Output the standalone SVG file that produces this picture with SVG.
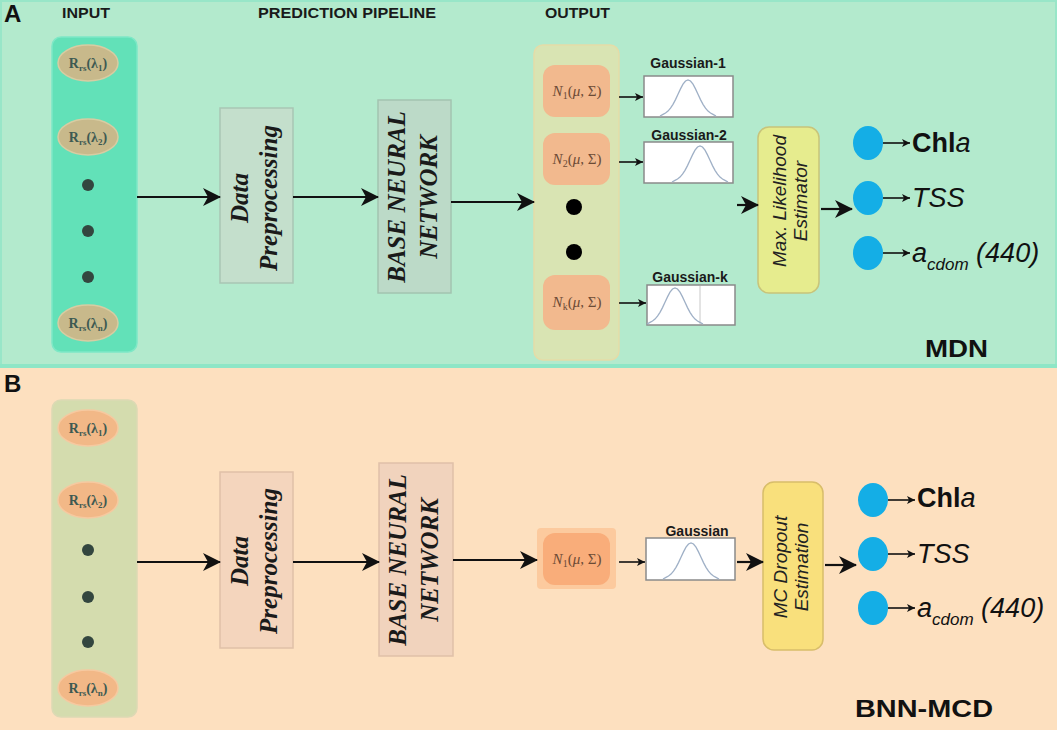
<svg xmlns="http://www.w3.org/2000/svg" xmlns:xlink="http://www.w3.org/1999/xlink" width="1059" height="730" viewBox="0 0 1059 730">
<style>
.hdr{font-family:"Liberation Sans",Arial,sans-serif;font-weight:bold;font-size:14px;fill:#1a1a1a}
.big{font-family:"Liberation Sans",Arial,sans-serif;font-weight:bold;font-size:24px;fill:#111}
.rs{font-family:"Liberation Serif","Times New Roman",serif;font-weight:bold;font-size:14px;fill:#3d5a52}
.nl{font-family:"Liberation Serif","Times New Roman",serif;font-size:15px;fill:#6b4a35}
.rot{font-family:"Liberation Serif","Times New Roman",serif;font-weight:bold;font-style:italic;fill:#1a1a1a;text-anchor:middle}
.rots{font-family:"Liberation Sans",Arial,sans-serif;font-style:italic;font-size:19px;fill:#222;text-anchor:middle}
.gl{font-family:"Liberation Sans",Arial,sans-serif;font-weight:bold;font-size:14px;fill:#1a1a1a;text-anchor:middle}
.out{font-family:"Liberation Sans",Arial,sans-serif;font-size:27px;fill:#111}
.gbox{fill:#fff;stroke:#8a8a8a;stroke-width:1.5}
.bell{fill:none;stroke:#9fb0c6;stroke-width:1.3}
.c{stroke:#111;stroke-width:2.2;fill:none}
.cs{stroke:#111;stroke-width:1.6;fill:none}
.dot{fill:#33463f}
.blue{fill:#14aee6}
</style>
<defs>
<marker id="ah" markerUnits="userSpaceOnUse" markerWidth="20" markerHeight="20" refX="17" refY="9" orient="auto">
<path d="M0,0 L18,9 L0,18 L5,9 z" fill="#111"/>
</marker>
<marker id="as" markerUnits="userSpaceOnUse" markerWidth="10" markerHeight="10" refX="8" refY="4" orient="auto">
<path d="M0,0 L8,4 L0,8 L2,4 z" fill="#111"/>
</marker>
<path id="bell" d="M-28,0 L-25,-1.6 L-22.5,-3 L-20,-4.9 L-17.5,-7.9 L-15,-11.7 L-12.5,-16.4 L-10,-21.8 L-7.5,-27.1 L-5,-31.8 L-2.5,-35 L0,-36 L2.5,-35 L5,-31.8 L7.5,-27.1 L10,-21.8 L12.5,-16.4 L15,-11.7 L17.5,-7.9 L20,-4.9 L22.5,-3 L25,-1.6 L28,0"/>
</defs>

<!-- Panels -->
<g id="panelA">
<rect x="1" y="1" width="1055" height="364" fill="#b3eacd" stroke="#98e6c8" stroke-width="2"/>
<line x1="0" y1="366" x2="1057" y2="366" stroke="#8ee6c6" stroke-width="4"/>
<text x="4" y="22" class="big" font-size="23">A</text>
<text x="62" y="18" class="hdr" textLength="48" lengthAdjust="spacingAndGlyphs">INPUT</text>
<text x="258" y="18" class="hdr" textLength="178" lengthAdjust="spacingAndGlyphs">PREDICTION PIPELINE</text>
<text x="545" y="18" class="hdr" textLength="65" lengthAdjust="spacingAndGlyphs">OUTPUT</text>
<text x="925" y="357" class="big" textLength="63" lengthAdjust="spacingAndGlyphs">MDN</text>
</g>
<g id="panelB">
<rect x="0" y="368" width="1057" height="362" fill="#fde0bf"/>
<text x="4" y="392" class="big" font-size="23">B</text>
<text x="855" y="717" class="big" textLength="138" lengthAdjust="spacingAndGlyphs">BNN-MCD</text>
</g>

<!-- Panel A nodes -->
<g id="A-input">
<rect x="52" y="37" width="85" height="315" rx="9" fill="#62e1b8" stroke="#7ee8c6" stroke-width="1.5"/>
<ellipse cx="88" cy="63" rx="30" ry="18" fill="#c8b98b" stroke="#d8cca2" stroke-width="1.5"/>
<text x="88" y="68" class="rs" text-anchor="middle">R<tspan font-size="9" dy="3">rs</tspan><tspan dy="-3">(λ</tspan><tspan font-size="9" dy="3">1</tspan><tspan dy="-3">)</tspan></text>
<ellipse cx="88" cy="137" rx="30" ry="18" fill="#c8b98b" stroke="#d8cca2" stroke-width="1.5"/>
<text x="88" y="142" class="rs" text-anchor="middle">R<tspan font-size="9" dy="3">rs</tspan><tspan dy="-3">(λ</tspan><tspan font-size="9" dy="3">2</tspan><tspan dy="-3">)</tspan></text>
<circle cx="88" cy="185" r="6" class="dot"/>
<circle cx="88" cy="231" r="6" class="dot"/>
<circle cx="88" cy="277" r="6" class="dot"/>
<ellipse cx="88" cy="323" rx="30" ry="18" fill="#c8b98b" stroke="#d8cca2" stroke-width="1.5"/>
<text x="88" y="328" class="rs" text-anchor="middle">R<tspan font-size="9" dy="3">rs</tspan><tspan dy="-3">(λ</tspan><tspan font-size="9" dy="3">n</tspan><tspan dy="-3">)</tspan></text>
</g>
<g id="A-preproc">
<rect x="220" y="108" width="73" height="175" fill="#c4dfcc" stroke="#a9c6b4" stroke-width="1.5"/>
<g transform="translate(257,198) rotate(-90)">
<text x="0" y="-9" class="rot" font-size="25">Data</text>
<text x="0" y="20" class="rot" font-size="25">Preprocessing</text>
</g>
</g>
<g id="A-bnn">
<rect x="378" y="100" width="73" height="193" fill="#bcdac8" stroke="#a3c4b0" stroke-width="1.5"/>
<g transform="translate(414,197) rotate(-90)">
<text x="0" y="-9" class="rot" font-size="25">BASE NEURAL</text>
<text x="0" y="23" class="rot" font-size="25">NETWORK</text>
</g>
</g>
<g id="A-output">
<rect x="534" y="45" width="85" height="315" rx="9" fill="#d9e4b3" stroke="#e5dca8" stroke-width="1.5"/>
<rect x="543" y="65" width="67" height="52" rx="12" fill="#f2b98e"/>
<text x="577" y="96" class="nl" text-anchor="middle"><tspan font-style="italic">N</tspan><tspan font-size="10" dy="3">1</tspan><tspan dy="-3">(</tspan><tspan font-style="italic">μ</tspan>, Σ)</text>
<rect x="543" y="133" width="67" height="52" rx="12" fill="#f2b98e"/>
<text x="577" y="164" class="nl" text-anchor="middle"><tspan font-style="italic">N</tspan><tspan font-size="10" dy="3">2</tspan><tspan dy="-3">(</tspan><tspan font-style="italic">μ</tspan>, Σ)</text>
<circle cx="574" cy="207" r="8" fill="#000"/>
<circle cx="574" cy="252" r="8" fill="#000"/>
<rect x="543" y="275" width="67" height="55" rx="12" fill="#f2b98e"/>
<text x="577" y="307" class="nl" text-anchor="middle"><tspan font-style="italic">N</tspan><tspan font-size="10" dy="3">k</tspan><tspan dy="-3">(</tspan><tspan font-style="italic">μ</tspan>, Σ)</text>
</g>
<g id="A-gauss1">
<text x="688" y="68" class="gl">Gaussian-1</text>
<rect x="644" y="76" width="89" height="41" class="gbox"/>
<use xlink:href="#bell" href="#bell" x="688" y="116" class="bell"/>
</g>
<g id="A-gauss2">
<text x="689" y="140" class="gl">Gaussian-2</text>
<rect x="644" y="142" width="89" height="41" class="gbox"/>
<use xlink:href="#bell" href="#bell" x="700" y="182" class="bell"/>
</g>
<g id="A-gaussk">
<text x="690" y="282" class="gl">Gaussian-k</text>
<rect x="647" y="285" width="88" height="40" class="gbox"/>
<line x1="700" y1="286" x2="700" y2="324" stroke="#c8c8c8" stroke-width="1"/>
<use xlink:href="#bell" href="#bell" x="675" y="324" class="bell"/>
</g>
<g id="A-mle">
<rect x="758" y="127" width="61" height="166" rx="11" fill="#e6ec8e" stroke="#c8c47a" stroke-width="1.5"/>
<g transform="translate(795,201) rotate(-90)">
<text x="0" y="-9" class="rots">Max. Likelihood</text>
<text x="0" y="12" class="rots">Estimator</text>
</g>
</g>
<g id="A-results">
<ellipse cx="868" cy="143" rx="15" ry="17" class="blue"/>
<ellipse cx="868" cy="198" rx="15" ry="17" class="blue"/>
<ellipse cx="868" cy="253" rx="15" ry="17" class="blue"/>
<text x="912" y="152" class="out"><tspan font-weight="bold">Chl</tspan><tspan font-style="italic">a</tspan></text>
<text x="912" y="207" class="out" font-style="italic">TSS</text>
<text x="912" y="262" class="out" font-style="italic">a<tspan font-size="17" dy="8">cdom</tspan><tspan dy="-8"> (440)</tspan></text>
</g>

<!-- Panel B nodes -->
<g id="B-input">
<rect x="52" y="400" width="85" height="317" rx="9" fill="#d4dcae" stroke="#dcd9b4" stroke-width="1.5"/>
<ellipse cx="88" cy="428" rx="30" ry="18" fill="#f2b887" stroke="#f6c9a0" stroke-width="1.5"/>
<text x="88" y="433" class="rs" text-anchor="middle">R<tspan font-size="9" dy="3">rs</tspan><tspan dy="-3">(λ</tspan><tspan font-size="9" dy="3">1</tspan><tspan dy="-3">)</tspan></text>
<ellipse cx="88" cy="500" rx="30" ry="18" fill="#f2b887" stroke="#f6c9a0" stroke-width="1.5"/>
<text x="88" y="505" class="rs" text-anchor="middle">R<tspan font-size="9" dy="3">rs</tspan><tspan dy="-3">(λ</tspan><tspan font-size="9" dy="3">2</tspan><tspan dy="-3">)</tspan></text>
<circle cx="88" cy="550" r="6" class="dot"/>
<circle cx="88" cy="597" r="6" class="dot"/>
<circle cx="88" cy="642" r="6" class="dot"/>
<ellipse cx="88" cy="688" rx="30" ry="18" fill="#f2b887" stroke="#f6c9a0" stroke-width="1.5"/>
<text x="88" y="693" class="rs" text-anchor="middle">R<tspan font-size="9" dy="3">rs</tspan><tspan dy="-3">(λ</tspan><tspan font-size="9" dy="3">n</tspan><tspan dy="-3">)</tspan></text>
</g>
<g id="B-preproc">
<rect x="220" y="472" width="73" height="176" fill="#f4d5bd" stroke="#e0c0a8" stroke-width="1.5"/>
<g transform="translate(257,561) rotate(-90)">
<text x="0" y="-9" class="rot" font-size="25">Data</text>
<text x="0" y="20" class="rot" font-size="25">Preprocessing</text>
</g>
</g>
<g id="B-bnn">
<rect x="379" y="463" width="74" height="193" fill="#f1d3bd" stroke="#dfc0a9" stroke-width="1.5"/>
<g transform="translate(415,560) rotate(-90)">
<text x="0" y="-9" class="rot" font-size="25">BASE NEURAL</text>
<text x="0" y="23" class="rot" font-size="25">NETWORK</text>
</g>
</g>
<g id="B-output">
<rect x="537" y="528" width="79" height="61" rx="4" fill="#fcca9e"/>
<rect x="543" y="533" width="67" height="52" rx="12" fill="#f9ad7a"/>
<text x="577" y="564" class="nl" text-anchor="middle"><tspan font-style="italic">N</tspan><tspan font-size="10" dy="3">1</tspan><tspan dy="-3">(</tspan><tspan font-style="italic">μ</tspan>, Σ)</text>
</g>
<g id="B-gauss">
<text x="697" y="536" class="gl">Gaussian</text>
<rect x="646" y="538" width="89" height="42" class="gbox"/>
<use xlink:href="#bell" href="#bell" x="691" y="579" class="bell"/>
</g>
<g id="B-mcd">
<rect x="763" y="482" width="60" height="168" rx="11" fill="#f9e07c" stroke="#d8bd6a" stroke-width="1.5"/>
<g transform="translate(796,567) rotate(-90)">
<text x="0" y="-9" class="rots">MC Dropout</text>
<text x="0" y="12" class="rots">Estimation</text>
</g>
</g>
<g id="B-results">
<ellipse cx="873" cy="500" rx="15" ry="17" class="blue"/>
<ellipse cx="873" cy="554" rx="15" ry="17" class="blue"/>
<ellipse cx="873" cy="608" rx="15" ry="17" class="blue"/>
<text x="917" y="507" class="out"><tspan font-weight="bold">Chl</tspan><tspan font-style="italic">a</tspan></text>
<text x="917" y="563" class="out" font-style="italic">TSS</text>
<text x="917" y="617" class="out" font-style="italic">a<tspan font-size="17" dy="8">cdom</tspan><tspan dy="-8"> (440)</tspan></text>
</g>

<!-- Connectors -->
<g id="connectors">
<line x1="137" y1="197" x2="220" y2="197" class="c" marker-end="url(#ah)"/>
<line x1="293" y1="197" x2="378" y2="197" class="c" marker-end="url(#ah)"/>
<line x1="451" y1="202" x2="534" y2="202" class="c" marker-end="url(#ah)"/>
<line x1="619" y1="97" x2="643" y2="97" class="cs" marker-end="url(#as)"/>
<line x1="619" y1="162" x2="643" y2="162" class="cs" marker-end="url(#as)"/>
<line x1="619" y1="303" x2="646" y2="303" class="cs" marker-end="url(#as)"/>
<line x1="737" y1="205" x2="758" y2="205" class="c" marker-end="url(#ah)"/>
<line x1="821" y1="209" x2="852" y2="209" class="c" marker-end="url(#ah)"/>
<line x1="883" y1="143" x2="910" y2="143" class="cs" marker-end="url(#as)"/>
<line x1="883" y1="198" x2="910" y2="198" class="cs" marker-end="url(#as)"/>
<line x1="883" y1="253" x2="910" y2="253" class="cs" marker-end="url(#as)"/>

<line x1="137" y1="562" x2="220" y2="562" class="c" marker-end="url(#ah)"/>
<line x1="293" y1="562" x2="379" y2="562" class="c" marker-end="url(#ah)"/>
<line x1="453" y1="560" x2="537" y2="560" class="c" marker-end="url(#ah)"/>
<line x1="619" y1="562" x2="645" y2="562" class="cs" marker-end="url(#as)"/>
<line x1="737" y1="562" x2="763" y2="562" class="c" marker-end="url(#ah)"/>
<line x1="825" y1="565" x2="856" y2="565" class="c" marker-end="url(#ah)"/>
<line x1="888" y1="500" x2="915" y2="500" class="cs" marker-end="url(#as)"/>
<line x1="888" y1="554" x2="915" y2="554" class="cs" marker-end="url(#as)"/>
<line x1="888" y1="608" x2="915" y2="608" class="cs" marker-end="url(#as)"/>
</g>
</svg>
